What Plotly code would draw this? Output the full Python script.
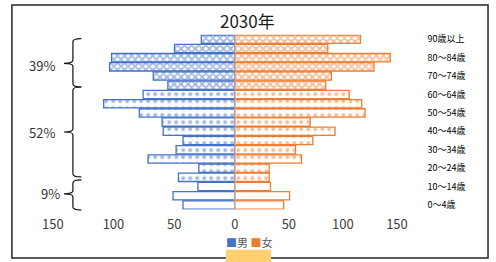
import plotly.graph_objects as go

# ---------------- data ----------------
age_groups = ["0～4歳", "5～9歳", "10～14歳", "15～19歳", "20～24歳", "25～29歳",
              "30～34歳", "35～39歳", "40～44歳", "45～49歳", "50～54歳", "55～59歳",
              "60～64歳", "65～69歳", "70～74歳", "75～79歳", "80～84歳", "85～89歳",
              "90歳以上"]
male = [42.7, 50.9, 30.4, 46.4, 29.6, 71.5, 48.4, 42.7, 59.0, 59.9,
        78.7, 108.1, 75.6, 55.2, 67.2, 103.2, 101.6, 49.7, 27.6]
female = [45.2, 50.7, 33.0, 31.8, 31.8, 61.7, 56.2, 72.2, 92.7, 69.7,
          120.5, 117.4, 105.8, 84.1, 89.3, 128.7, 143.8, 86.0, 116.2]
age_band = ["0-14"] * 3 + ["15-64"] * 10 + ["65+"] * 6
band_share = {"0-14": "9%", "15-64": "52%", "65+": "39%"}
labeled_groups = age_groups[::2]
male_ticks = [0, 50, 100, 150]
female_ticks = [50, 100, 150]
title_text = "2030年"

# ---------------- styling ----------------
W, H = 496, 262
BLUE = "#4472C4"
ORANGE = "#ED7D31"
FONT = "Noto Sans CJK JP"


def fx(px):
    return px / W


def fy(py):
    return 1 - py / H


pattern_shape = {"0-14": "", "15-64": ".", "65+": "x"}
pattern_size = {"0-14": 6, "15-64": 7, "65+": 5}
pattern_sol = {"0-14": 0.1, "15-64": 0.25, "65+": 0.6}
shapes_arr = [pattern_shape[b] for b in age_band]
sizes_arr = [pattern_size[b] for b in age_band]
sol_arr = [pattern_sol[b] for b in age_band]

fig = go.Figure()
fig.add_trace(go.Bar(
    x=male, y=age_groups, orientation="h", xaxis="x", yaxis="y", name="男",
    marker=dict(color="white", line=dict(color=BLUE, width=1.3),
                pattern=dict(shape=shapes_arr, fgcolor=BLUE, bgcolor="white",
                             size=sizes_arr, solidity=sol_arr, fillmode="overlay")),
))
fig.add_trace(go.Bar(
    x=female, y=age_groups, orientation="h", xaxis="x2", yaxis="y", name="女",
    marker=dict(color="white", line=dict(color=ORANGE, width=1.3),
                pattern=dict(shape=shapes_arr, fgcolor=ORANGE, bgcolor="white",
                             size=sizes_arr, solidity=sol_arr, fillmode="overlay")),
))

y_bot, y_top = 210, 33
x_zero = 236.7
male_px_per_unit = 1.223
female_px_per_unit = 1.09
male_left = 40
female_right = 424
label_x = 430

tickfont = dict(family=FONT, size=13, color="#404040")
fig.update_layout(
    width=W, height=H, autosize=False,
    margin=dict(l=0, r=0, t=0, b=0),
    paper_bgcolor="white", plot_bgcolor="white",
    showlegend=False, barmode="overlay", bargap=0.1,
    font=dict(family=FONT),
    xaxis=dict(domain=[fx(male_left), fx(x_zero)],
               range=[(x_zero - male_left) / male_px_per_unit, 0],
               anchor="y", tickmode="array", tickvals=male_ticks,
               showgrid=False, zeroline=False, showline=False, ticks="",
               ticklabelstandoff=5, tickfont=tickfont, fixedrange=True),
    xaxis2=dict(domain=[fx(x_zero), fx(female_right)],
                range=[0, (female_right - x_zero) / female_px_per_unit],
                anchor="y", tickmode="array", tickvals=female_ticks,
                showgrid=False, zeroline=False, showline=False, ticks="",
                ticklabelstandoff=5, tickfont=tickfont, fixedrange=True),
    yaxis=dict(domain=[fy(y_bot), fy(y_top)], type="category",
               categoryorder="array", categoryarray=age_groups,
               range=[-0.5, len(age_groups) - 0.5],
               anchor="free", position=fx(label_x), side="right",
               tickmode="array", tickvals=labeled_groups, ticktext=labeled_groups,
               ticks="", showgrid=False, zeroline=False, showline=False,
               tickfont=dict(family=FONT, size=9, color="#000000"),
               fixedrange=True),
)


def brace_path(top, mid, bot, xv=73.5, xl=64.5, xr=82):
    pts = [
        ("M", [(xr, top)]),
        ("Q", [(xv, top), (xv, top + 3)]),
        ("L", [(xv, mid - 3)]),
        ("Q", [(xv, mid), (xl, mid)]),
        ("Q", [(xv, mid), (xv, mid + 3)]),
        ("L", [(xv, bot - 3)]),
        ("Q", [(xv, bot), (xr, bot)]),
    ]
    s = ""
    for cmd, ps in pts:
        s += cmd + " " + " ".join(f"{fx(a):.5f},{fy(b):.5f}" for a, b in ps) + " "
    return s.strip()


shapes = []
# braces
brace_specs = [("65+", 37, 62, 86), ("15-64", 86, 131.5, 177), ("0-14", 180, 194, 210.5)]
for band, top, mid, bot in brace_specs:
    shapes.append(dict(type="path", xref="paper", yref="paper",
                       path=brace_path(top, mid, bot),
                       line=dict(color="#111111", width=1.2)))
# centre line
shapes.append(dict(type="line", xref="x2", yref="paper", x0=0, x1=0,
                   y0=fy(y_bot), y1=fy(y_top),
                   line=dict(color="#D9B49A", width=1.5), layer="above"))
# outer border
shapes.append(dict(type="rect", xref="paper", yref="paper",
                   x0=fx(12), x1=fx(492), y0=fy(259), y1=fy(3),
                   line=dict(color="#262626", width=1.5)))
# decorative tab at the bottom
shapes.append(dict(type="rect", xref="paper", yref="paper",
                   x0=fx(227.7), x1=fx(273.3), y0=fy(263), y1=fy(250.7),
                   fillcolor="#FFD070", line=dict(width=0), layer="above"))
fig.update_layout(shapes=shapes)

annotations = [
    dict(text=title_text, x=fx(250), y=fy(19), xref="paper", yref="paper",
         showarrow=False, font=dict(family=FONT, size=17, color="#1a1a1a"),
         xanchor="center", yanchor="middle"),
    dict(text=f'<span style="color:{BLUE}">■</span>男 <span style="color:{ORANGE}">■</span>女',
         x=fx(251.5), y=fy(243), xref="paper", yref="paper", showarrow=False,
         font=dict(family=FONT, size=11, color="#595959"),
         xanchor="center", yanchor="middle"),
]
pct_pos = {"65+": (57.5, 64), "15-64": (57.5, 132.5), "0-14": (62, 194)}
for band, (px, py) in pct_pos.items():
    annotations.append(dict(text=band_share[band], x=fx(px), y=fy(py),
                            xref="paper", yref="paper", showarrow=False,
                            font=dict(family=FONT, size=13, color="#333333"),
                            xanchor="right", yanchor="middle"))
fig.update_layout(annotations=annotations)

fig.write_html("out.html", config={"displayModeBar": False},
               post_script="document.body.style.margin='0';document.body.style.overflow='hidden';")
